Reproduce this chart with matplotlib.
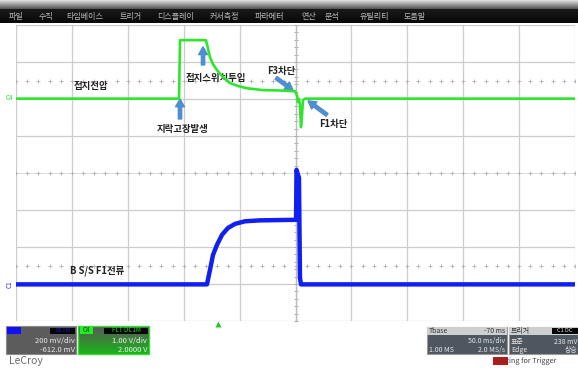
"""
LeCroy scope capture: 접지전압 (C4) and B S/S F1전류 (C1) during a ground fault.
"""
import numpy as np
import matplotlib.pyplot as plt
from matplotlib.patches import Rectangle

plt.rcParams["font.family"] = ["Noto Sans CJK KR", "DejaVu Sans"]

# time base: 50 ms/div, 10 divisions
T_DIV = 50.0
N_XDIV = 10
N_YDIV = 8

# C4 ground voltage (V), 1.00 V/div, ground marker 6.01 div from bottom
C4_VDIV = 1.0
C4_GND_DIV = 6.01
c4_t = [0, 145.8, 146.7, 169.9, 171.7, 173.5, 176.2, 179.8, 184.3, 191.4, 198.6,
        206.6, 220.9, 236.1, 249.6, 251.3, 252.2, 253.1, 254.0, 254.9, 255.8,
        256.7, 258.5, 500]
c4_v = [0, 0, 1.58, 1.58, 1.36, 1.12, 0.93, 0.77, 0.61, 0.42, 0.34,
        0.28, 0.23, 0.22, 0.20, 0.09, -0.09, -0.01, -0.18, -0.77, -0.45,
        -0.04, 0, 0]

# C1 feeder current probe (V), 200 mV/div, ground marker 0.99 div from bottom
C1_VDIV = 0.2
C1_GND_DIV = 0.99
c1_t = [0, 170.8, 173.5, 176.2, 179.8, 184.3, 189.6, 195.9, 204.8, 218.3,
        250.5, 250.9, 253.1, 254.0, 254.9, 500]
c1_v = [0, 0, 0.078, 0.159, 0.214, 0.268, 0.305, 0.327, 0.341, 0.346,
        0.349, 0.619, 0.576, 0.035, 0, 0]

MENU = ["파일", "수직", "타임베이스", "트리거", "디스플레이", "커서측정",
        "파라메터", "연산", "분석", "유틸리티", "도움말"]
MENU_X = [9, 39, 66, 120, 157, 210, 255, 301, 325, 360, 404]

W, H = 578, 369
fig = plt.figure(figsize=(W / 100, H / 100), dpi=100)

# chrome layer in pixel coordinates
ui = fig.add_axes([0, 0, 1, 1])
ui.set_xlim(0, W)
ui.set_ylim(H, 0)
ui.axis("off")

# menu bar
grad = np.concatenate([np.linspace(0.86, 0.35, 9), np.linspace(0.10, 0.04, 14)])
ui.imshow(np.repeat(grad[:, None], 2, axis=1), cmap="gray", vmin=0, vmax=1,
          extent=(0, W, 23, 0), aspect="auto", interpolation="bilinear")
for label, x in zip(MENU, MENU_X):
    ui.text(x, 16, label, color="#b8b8b8", fontsize=5.8, va="center", ha="left")

# channel boxes
ui.add_patch(Rectangle((6, 326), 70, 28, facecolor="#5c5c5c", edgecolor="#8a8a8a", lw=0.8))
ui.add_patch(Rectangle((7, 327), 14, 7, facecolor="#1010ff", lw=0))
ui.add_patch(Rectangle((50, 327.5), 25, 6, facecolor="#050510", lw=0))
ui.text(62.5, 330.5, "DC1M", color="#1a1aa0", fontsize=4, ha="center", va="center")
ui.text(75, 341, "200 mV/div", color="#e8e8e8", fontsize=5.5, ha="right", va="center")
ui.text(75, 350, "-612.0 mV", color="#e8e8e8", fontsize=5.5, ha="right", va="center")

gg = np.linspace(0, 1, 30)[:, None]
green_box = np.dstack([0.35 - 0.25 * gg, 0.35 + 0.35 * gg, 0.35 - 0.25 * gg])
ui.imshow(np.repeat(green_box, 2, axis=1), extent=(78, 149, 354, 326),
          aspect="auto", interpolation="bilinear")
ui.add_patch(Rectangle((78, 326), 71, 28, facecolor="none", edgecolor="#33dd33", lw=1))
ui.add_patch(Rectangle((80, 327), 13, 7, facecolor="#22ee22", lw=0))
ui.text(86.5, 330.5, "C4", color="#003300", fontsize=4.5, ha="center", va="center")
ui.add_patch(Rectangle((104, 327.5), 44, 6, facecolor="#050505", lw=0))
ui.text(126, 330.5, "FLT DC1M", color="#22dd22", fontsize=4.5, ha="center", va="center")
ui.text(147, 341, "1.00 V/div", color="#f0f0f0", fontsize=5.5, ha="right", va="center")
ui.text(147, 350, "2.0000 V", color="#f0f0f0", fontsize=5.5, ha="right", va="center")

ui.text(9, 361, "LeCroy", color="#6a6a6a", fontsize=7.5, ha="left", va="center")

# timebase box
ui.add_patch(Rectangle((427, 327), 80, 27, facecolor="#4e5660", edgecolor="#9a9a9a", lw=0.8))
ui.add_patch(Rectangle((427, 327), 80, 8, facecolor="#cfcfcf", lw=0))
ui.text(429, 331, "Tbase", color="#333333", fontsize=5, ha="left", va="center")
ui.text(505, 331, "-70 ms", color="#333333", fontsize=5, ha="right", va="center")
ui.text(505, 341.5, "50.0 ms/div", color="#e8e8e8", fontsize=5, ha="right", va="center")
ui.text(429, 350, "1.00 MS", color="#e8e8e8", fontsize=5, ha="left", va="center")
ui.text(505, 350, "2.0 MS/s", color="#e8e8e8", fontsize=5, ha="right", va="center")

# trigger box
ui.add_patch(Rectangle((509, 327), 69, 27, facecolor="#4e5660", edgecolor="#9a9a9a", lw=0.8))
ui.add_patch(Rectangle((509, 327), 69, 8, facecolor="#cfcfcf", lw=0))
ui.text(511, 331, "트리거", color="#333333", fontsize=5, ha="left", va="center")
ui.add_patch(Rectangle((552, 327.5), 26, 6.5, facecolor="#050505", lw=0))
ui.text(565, 330.8, "C1 DC", color="#e0e0e0", fontsize=4, ha="center", va="center")
ui.text(511, 341.5, "표준", color="#e8e8e8", fontsize=5, ha="left", va="center")
ui.text(577, 341.5, "238 mV", color="#e8e8e8", fontsize=5, ha="right", va="center")
ui.text(511, 350, "Edge", color="#e8e8e8", fontsize=5, ha="left", va="center")
ui.text(577, 350, "상승", color="#e8e8e8", fontsize=5, ha="right", va="center")

ui.add_patch(Rectangle((493, 357), 15, 8, facecolor="#cc1111", lw=0))
ui.text(494, 361, "Waiting for Trigger", color="#444444", fontsize=5.2, ha="left", va="center")

# trigger position marker
ui.plot([218], [323.5], marker="^", color="#22cc22", markersize=4, mec="none")

# ground markers
ui.text(9, 97.5, "C4", color="#22dd22", fontsize=4.5, ha="center", va="center")
ui.text(10, 284.5, "C1", color="#2020ff", fontsize=4.5, ha="center", va="center", rotation=90)

# scope grid (time in ms, vertical in divisions)
ax = fig.add_axes([16 / W, (H - 321) / H, (575 - 16) / W, (321 - 25) / H])
ax.set_xlim(0, T_DIV * N_XDIV)
ax.set_ylim(0, N_YDIV)
ax.set_facecolor("white")
for s in ax.spines.values():
    s.set_visible(False)
ax.set_xticks([])
ax.set_yticks([])

grid_c = "#cccccc"
for i in range(N_XDIV + 1):
    ax.axvline(i * T_DIV, color=grid_c, lw=0.9, zorder=1)
for j in range(N_YDIV + 1):
    if j != 4:
        ax.axhline(j, color=grid_c, lw=0.9, zorder=1)
ax.axhline(4, color="#dddddd", lw=0.7, zorder=1)
tick_x = np.arange(0, T_DIV * N_XDIV + 1, T_DIV / 5)
for yy in (6.5, 4, 1.5):
    ax.plot(tick_x, np.full_like(tick_x, yy), ls="none", marker="+",
            markersize=3, mew=0.6, color="#b0b0b0", zorder=1)
tick_y = np.arange(0, N_YDIV + 0.01, 0.2)
ax.plot(np.full_like(tick_y, 250.0), tick_y, ls="none", marker="_",
        markersize=3.5, mew=0.7, color="#a8a8a8", zorder=1)
ax.axvline(250, color="#bbbbbb", lw=0.9, zorder=1)

# channel axes
axg = ax.twinx()
axg.set_ylim(-C4_GND_DIV * C4_VDIV, (N_YDIV - C4_GND_DIV) * C4_VDIV)
axb = ax.twinx()
axb.set_ylim(-C1_GND_DIV * C1_VDIV, (N_YDIV - C1_GND_DIV) * C1_VDIV)
for a in (axg, axb):
    a.axis("off")

axg.plot(c4_t, c4_v, color="#2ee62e", lw=1.9, solid_joinstyle="round", zorder=3)
axb.plot(c1_t, c1_v, color="#1020f0", lw=3.2, solid_joinstyle="round", zorder=3)

# annotations
txt = dict(fontsize=6.8, fontweight="bold", color="#222222", ha="center", va="center", zorder=5)
ax.text(67.1, 6.35, "접지전압", **txt)
ax.text(149.4, 5.19, "지락고장발생", **txt)
ax.text(178.9, 6.58, "접지스위치투입", **txt)
ax.text(237.0, 6.76, "F3차단", **txt)
ax.text(283.6, 5.32, "F1차단", **txt)
ax.text(72.5, 1.35, "B S/S F1전류", **txt)

arrow = dict(arrowstyle="simple,head_length=0.7,head_width=0.8,tail_width=0.3",
             color="#4f8fd0", mutation_scale=8, shrinkA=0, shrinkB=0)
for tail, tip in [((146.7, 5.46), (146.7, 6.0)),
                  ((167.3, 6.92), (167.3, 7.41)),
                  ((232.6, 6.57), (247.8, 6.24)),
                  ((278.2, 5.57), (261.2, 5.95))]:
    ax.annotate("", xy=tip, xytext=tail, arrowprops=arrow, zorder=6)

fig.savefig("out.png", dpi=100)
